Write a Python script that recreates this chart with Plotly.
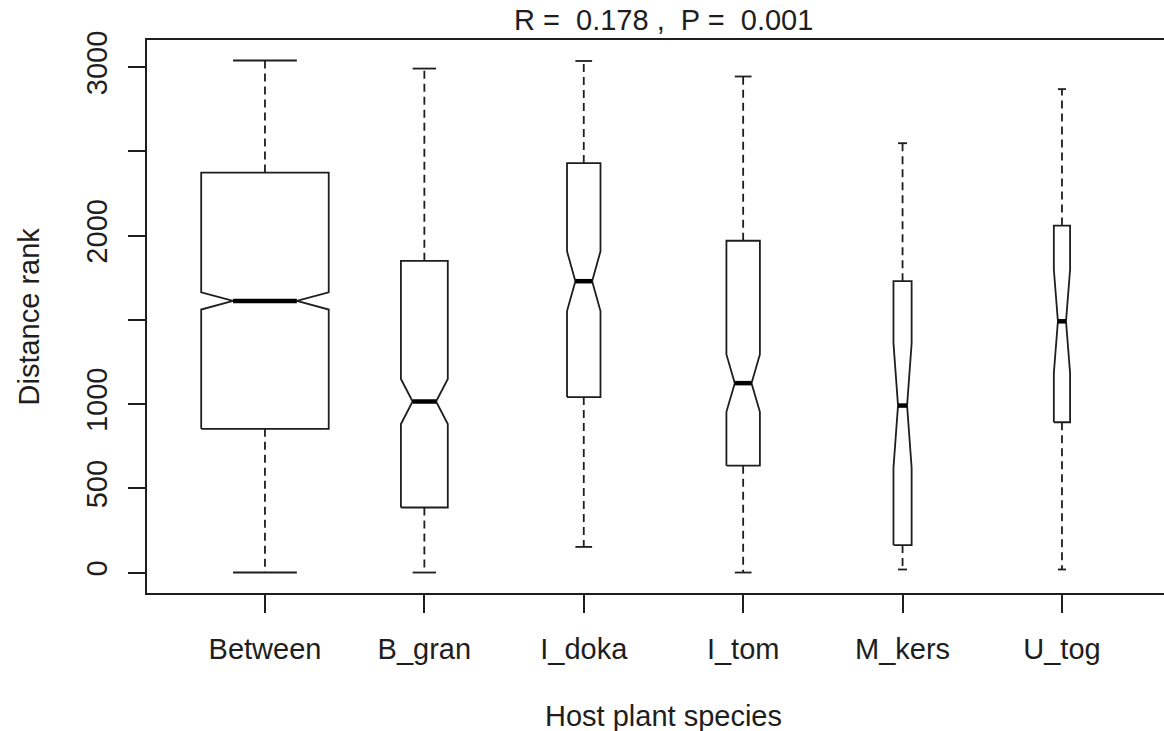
import numpy as np
import plotly.graph_objects as go

# Five-number summaries of the distance ranks per host plant group
groups = ["Between", "B_gran", "I_doka", "I_tom", "M_kers", "U_tog"]
lower_whisker = [1, 1, 153, 1, 19, 19]
q1 = [854, 387, 1042, 635, 164, 893]
median = [1613, 1016, 1730, 1125, 992, 1492]
q3 = [2375, 1851, 2431, 1970, 1730, 2060]
upper_whisker = [3040, 2992, 3037, 2945, 2549, 2870]
n_pairs = [2220, 300, 153, 153, 45, 36]

y_tick_values = [0, 500, 1000, 1500, 2000, 2500, 3000]
y_tick_labels = ["0", "500", "1000", "", "2000", "", "3000"]

title_text = "R =  0.178 ,  P =  0.001"
x_title = "Host plant species"
y_title = "Distance rank"

# Styling
INK = "#1e1e1e"
LW = 1.8
FONT = "Liberation Sans, Arial, Helvetica, sans-serif"
FS = 29

W, H = 1164, 731
ML, MR, MT, MB = 147, 0, 40, 138

fig = go.Figure()

max_n = max(n_pairs)
for i, g in enumerate(groups):
    x = i + 1
    half = 0.8 * np.sqrt(n_pairs[i] / max_n) / 2          # varwidth boxes
    notch = 1.58 * (q3[i] - q1[i]) / np.sqrt(n_pairs[i])   # notch half-height
    nl, nh = median[i] - notch, median[i] + notch
    nw = 0.5                                               # notch pinches to half width

    # notched box outline
    bx = x + half * np.array([-1, 1, 1, nw, 1, 1, -1, -1, -nw, -1, -1])
    by = [q1[i], q1[i], nl, median[i], nh, q3[i], q3[i], nh, median[i], nl, q1[i]]
    fig.add_trace(go.Scatter(x=bx, y=by, mode="lines",
                             line=dict(color=INK, width=LW), hoverinfo="skip"))

    # dashed whiskers
    for a, b in ((q1[i], lower_whisker[i]), (q3[i], upper_whisker[i])):
        fig.add_trace(go.Scatter(x=[x, x], y=[a, b], mode="lines",
                                 line=dict(color=INK, width=LW, dash="8px,5px"),
                                 hoverinfo="skip"))
    # staples
    for v in (lower_whisker[i], upper_whisker[i]):
        fig.add_trace(go.Scatter(x=[x - half * 0.5, x + half * 0.5], y=[v, v],
                                 mode="lines", line=dict(color=INK, width=LW),
                                 hoverinfo="skip"))
    # thick median bar
    fig.add_trace(go.Scatter(x=[x - half * nw, x + half * nw], y=[median[i], median[i]],
                             mode="lines", line=dict(color="#000000", width=4.5),
                             hoverinfo="skip"))

# R-style 4% padding on both axes; the frame's right edge falls past the canvas
lo, hi = min(lower_whisker), max(upper_whisker)
pad = 0.04 * (hi - lo)
y_range = [lo - pad, hi + pad]
x_full = [0.5 - 0.24, len(groups) + 0.5 + 0.24]
px_per_unit = 159.4
x_range = [x_full[0], x_full[0] + (W - ML - MR) / px_per_unit]
plot_w = W - ML - MR
plot_h = H - MT - MB
frame_center = (px_per_unit * (x_full[1] - x_full[0])) / 2
cx = frame_center / plot_w

fig.update_layout(
    width=W, height=H,
    margin=dict(l=ML, r=MR, t=MT, b=MB),
    paper_bgcolor="white", plot_bgcolor="white",
    showlegend=False,
    font=dict(family=FONT, size=FS, color=INK),
    xaxis=dict(
        range=x_range, tickmode="array", tickvals=list(range(1, len(groups) + 1)),
        ticktext=groups, showgrid=False, zeroline=False,
        showline=True, linecolor=INK, linewidth=LW, mirror=True,
        ticks="outside", ticklen=18, tickwidth=LW, tickcolor=INK,
        ticklabelstandoff=11, tickfont=dict(family=FONT, size=FS, color=INK),
    ),
    yaxis=dict(
        range=y_range, tickmode="array", tickvals=y_tick_values, ticktext=y_tick_labels,
        showgrid=False, zeroline=False,
        showline=True, linecolor=INK, linewidth=LW, mirror=False,
        ticks="outside", ticklen=17, tickwidth=LW, tickcolor=INK,
        tickangle=-90, ticklabelstandoff=10,
        tickfont=dict(family=FONT, size=FS, color=INK),
    ),
    annotations=[
        dict(text=title_text, xref="paper", yref="paper", x=cx, y=1 + 20 / plot_h,
             xanchor="center", yanchor="middle", showarrow=False,
             font=dict(family=FONT, size=FS, color=INK)),
        dict(text=x_title, xref="paper", yref="paper", x=cx, y=-(716 - (H - MB)) / plot_h,
             xanchor="center", yanchor="middle", showarrow=False,
             font=dict(family=FONT, size=FS, color=INK)),
        dict(text=y_title, xref="paper", yref="paper", x=-(ML - 28) / plot_w, y=0.5,
             xanchor="center", yanchor="middle", textangle=-90, showarrow=False,
             font=dict(family=FONT, size=FS, color=INK)),
    ],
)

fig.write_html("out.html")
